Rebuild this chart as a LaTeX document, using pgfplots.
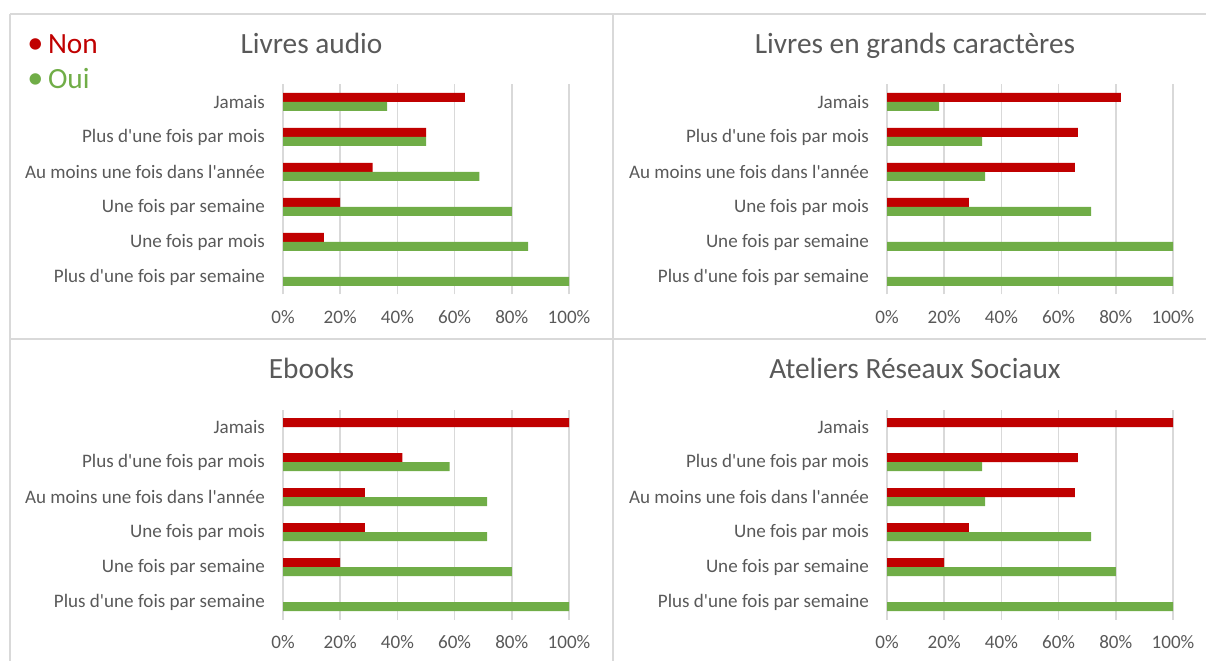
\documentclass[border=0pt]{standalone}
\usepackage{pgfplots}
\pgfplotsset{compat=1.18}
\usepackage{fontspec}
\setmainfont{Carlito}[Ligatures=TeXOff]
\definecolor{cNon}{HTML}{C00000}
\definecolor{cOui}{HTML}{70AD47}
\definecolor{cTxt}{HTML}{595959}
\definecolor{cGrid}{HTML}{D9D9D9}
\pgfplotsset{panel/.style={
  xbar, width=214.5pt, height=157.5pt, scale only axis,
  xmin=0, xmax=100, ymin=-0.5, ymax=5.5,
  axis line style={draw=none}, major tick length=0pt,
  xmajorgrids, grid style={cGrid, line width=1.1pt},
  xtick={0,20,40,60,80,100}, xticklabels={0\%,20\%,40\%,60\%,80\%,100\%},
  ytick={0,1,2,3,4,5},
  tick label style={font=\fontsize{14.3}{16}\selectfont, text=cTxt},
  yticklabel style={anchor=east, xshift=-10pt},
  xticklabel style={anchor=base, yshift=-22pt},
  bar width=6.75pt,
  anchor=south west,
  clip=false,
},
non/.style={fill=cNon, draw=none, bar shift=3.375pt},
oui/.style={fill=cOui, draw=none, bar shift=-3.375pt},
}
\begin{document}
\begin{tikzpicture}[x=0.75pt,y=0.75pt]
\path[use as bounding box] (0,0) rectangle (1206,661);
\draw[cGrid, line width=1.1pt] (10,647) -- (1206,647);
\draw[cGrid, line width=1.1pt] (10,647) -- (10,0);
\draw[cGrid, line width=1.1pt] (613,647) -- (613,0);
\draw[cGrid, line width=1.1pt] (10,322) -- (1206,322);
% legend
\node[anchor=base west, inner sep=0pt, font=\fontsize{22}{24}\selectfont, text=cNon] at (27,607) {\scalebox{1.1}{\textbullet}\hspace{3.5pt}Non};
\node[anchor=base west, inner sep=0pt, font=\fontsize{22}{24}\selectfont, text=cOui] at (27,572) {\scalebox{1.1}{\textbullet}\hspace{3.5pt}Oui};
% titles
\node[anchor=base, inner sep=0pt, font=\fontsize{22}{26}\selectfont, text=cTxt] at (311.5,607) {Livres audio};
\node[anchor=base, inner sep=0pt, font=\fontsize{22}{26}\selectfont, text=cTxt] at (915,607) {Livres en grands caractères};
\node[anchor=base, inner sep=0pt, font=\fontsize{22}{26}\selectfont, text=cTxt] at (311.5,282) {Ebooks};
\node[anchor=base, inner sep=0pt, font=\fontsize{22}{26}\selectfont, text=cTxt] at (915,282) {Ateliers Réseaux Sociaux};

% Livres audio
\begin{axis}[panel, at={(212.25pt,274.875pt)},
  yticklabels={Plus d'une fois par semaine, Une fois par mois, Une fois par semaine, Au moins une fois dans l'année, Plus d'une fois par mois, Jamais}]
\addplot[non] coordinates {(14.3,1) (20,2) (31.3,3) (50,4) (63.6,5)};
\addplot[oui] coordinates {(100,0) (85.7,1) (80,2) (68.7,3) (50,4) (36.4,5)};
\end{axis}

% Livres en grands caracteres
\begin{axis}[panel, at={(665.25pt,274.875pt)},
  yticklabels={Plus d'une fois par semaine, Une fois par semaine, Une fois par mois, Au moins une fois dans l'année, Plus d'une fois par mois, Jamais}]
\addplot[non] coordinates {(28.6,2) (65.7,3) (66.7,4) (81.8,5)};
\addplot[oui] coordinates {(100,0) (100,1) (71.4,2) (34.3,3) (33.3,4) (18.2,5)};
\end{axis}

% Ebooks
\begin{axis}[panel, at={(212.25pt,31.125pt)},
  yticklabels={Plus d'une fois par semaine, Une fois par semaine, Une fois par mois, Au moins une fois dans l'année, Plus d'une fois par mois, Jamais}]
\addplot[non] coordinates {(20,1) (28.6,2) (28.6,3) (41.7,4) (100,5)};
\addplot[oui] coordinates {(100,0) (80,1) (71.4,2) (71.4,3) (58.3,4)};
\end{axis}

% Ateliers Reseaux Sociaux
\begin{axis}[panel, at={(665.25pt,31.125pt)},
  yticklabels={Plus d'une fois par semaine, Une fois par semaine, Une fois par mois, Au moins une fois dans l'année, Plus d'une fois par mois, Jamais}]
\addplot[non] coordinates {(20,1) (28.6,2) (65.7,3) (66.7,4) (100,5)};
\addplot[oui] coordinates {(100,0) (80,1) (71.4,2) (34.3,3) (33.3,4)};
\end{axis}
\end{tikzpicture}
\end{document}
